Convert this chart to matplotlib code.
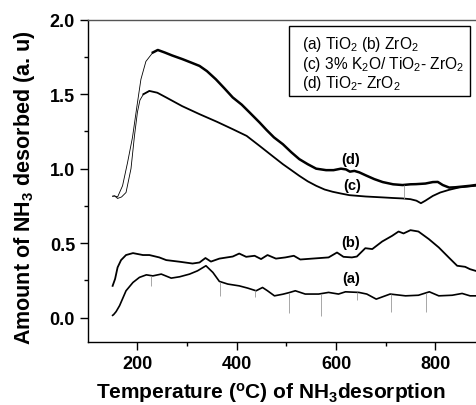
import numpy as np
import matplotlib
matplotlib.use("Agg")
import matplotlib.pyplot as plt
from matplotlib.patches import Rectangle
from matplotlib.ticker import MultipleLocator

plt.rcParams['font.family'] = ['Liberation Sans', 'DejaVu Sans']
plt.rcParams['mathtext.default'] = 'regular'

# TPD traces: temperature (deg C) and NH3 signal (a.u.)
# (d) TiO2-ZrO2
d_temp = [150, 154, 160, 170, 180, 190, 199, 207, 217, 231, 241, 255, 270, 291, 310,
          325, 340, 358, 375, 392, 410, 426, 446, 460, 475, 493, 510, 526, 543, 560,
          580, 595, 610, 620, 628, 637, 647, 660, 677, 694, 715, 734, 750, 761, 780,
          795, 805, 815, 828, 840, 855, 870, 881, 900]
d_val = [0.815, 0.817, 0.81, 0.885, 1.04, 1.21, 1.42, 1.60, 1.72, 1.78, 1.797, 1.78, 1.76,
         1.735, 1.71, 1.69, 1.655, 1.60, 1.54, 1.478, 1.43, 1.377, 1.31, 1.26, 1.21, 1.164,
         1.11, 1.064, 1.03, 1.00, 0.99, 0.99, 1.00, 0.995, 0.98, 0.985, 0.975, 0.955, 0.93,
         0.91, 0.895, 0.89, 0.895, 0.896, 0.90, 0.91, 0.911, 0.89, 0.873, 0.875, 0.88,
         0.885, 0.89, 0.89]

# (c) 3% K2O/TiO2-ZrO2
c_temp = [150, 154, 160, 168, 177, 187, 194, 200, 205, 212, 224, 240, 258, 290, 325, 360,
          392, 420, 446, 470, 493, 510, 526, 543, 560, 577, 593, 610, 627, 660, 694, 715,
          734, 750, 762, 771, 780, 795, 810, 828, 848, 865, 881, 900]
c_val = [0.815, 0.817, 0.80, 0.81, 0.84, 1.00, 1.22, 1.38, 1.46, 1.50, 1.522, 1.51, 1.478,
         1.42, 1.366, 1.315, 1.265, 1.22, 1.153, 1.09, 1.03, 0.99, 0.952, 0.915, 0.885,
         0.86, 0.845, 0.833, 0.822, 0.813, 0.807, 0.803, 0.80, 0.795, 0.785, 0.768, 0.785,
         0.817, 0.84, 0.858, 0.874, 0.88, 0.885, 0.89]

# (b) ZrO2
b_temp = [150, 155, 160, 167, 177, 191, 211, 224, 244, 258, 285, 311, 325, 337, 348, 365,
          392, 405, 419, 436, 449, 462, 479, 498, 515, 528, 552, 585, 602, 615, 632, 642,
          659, 673, 693, 713, 726, 736, 750, 766, 787, 807, 827, 844, 860, 870, 881, 900]
b_val = [0.213, 0.26, 0.337, 0.386, 0.42, 0.433, 0.42, 0.42, 0.404, 0.386, 0.375, 0.363,
         0.37, 0.40, 0.376, 0.396, 0.41, 0.43, 0.408, 0.415, 0.393, 0.42, 0.396, 0.404,
         0.415, 0.39, 0.396, 0.404, 0.437, 0.408, 0.404, 0.41, 0.466, 0.46, 0.511, 0.549,
         0.578, 0.565, 0.587, 0.578, 0.527, 0.471, 0.404, 0.348, 0.341, 0.325, 0.314, 0.30]

# (a) TiO2
a_temp = [150, 152, 157, 164, 177, 191, 204, 218, 231, 248, 268, 285, 305, 321, 338, 352,
          365, 382, 405, 422, 439, 452, 462, 476, 493, 506, 518, 538, 565, 585, 605, 619,
          646, 662, 681, 709, 740, 766, 788, 807, 834, 854, 870, 881, 900]
a_val = [0.015, 0.02, 0.04, 0.08, 0.18, 0.236, 0.27, 0.287, 0.28, 0.292, 0.265, 0.274,
         0.292, 0.314, 0.348, 0.303, 0.243, 0.225, 0.213, 0.198, 0.18, 0.202, 0.18, 0.146,
         0.157, 0.168, 0.18, 0.158, 0.158, 0.169, 0.158, 0.173, 0.169, 0.158, 0.124, 0.158,
         0.146, 0.15, 0.173, 0.146, 0.15, 0.162, 0.146, 0.146, 0.145]

# detector glitches on trace (a) and (c)
a_spike_temp = [228, 366, 436, 505, 570, 642, 711, 781]
a_spike_low = [0.213, 0.146, 0.135, 0.03, 0.012, 0.12, 0.035, 0.035]
c_spike_temp = [736]
c_spike_high = [0.89]

labels = ['(a)', '(b)', '(c)', '(d)']
label_temp = [630, 629, 633, 630]
label_val = [0.265, 0.505, 0.889, 1.064]

fig = plt.figure(figsize=(4.76, 4.06), dpi=100)
ax = fig.add_axes([0.1855, 0.1559, 0.8333, 0.793])

# thin rising edge, thicker main trace
d_temp, d_val = np.array(d_temp), np.array(d_val)
c_temp, c_val = np.array(c_temp), np.array(c_val)
ax.plot(d_temp[d_temp <= 241], d_val[d_temp <= 241], color='black', lw=0.6)
ax.plot(d_temp[d_temp >= 231], d_val[d_temp >= 231], color='black', lw=1.8)
ax.plot(c_temp[c_temp <= 224], c_val[c_temp <= 224], color='black', lw=0.6)
ax.plot(c_temp[c_temp >= 212], c_val[c_temp >= 212], color='black', lw=1.3)
ax.plot(b_temp, b_val, color='black', lw=1.3)
ax.plot(a_temp, a_val, color='black', lw=1.2)

ax.vlines(a_spike_temp, a_spike_low, np.interp(a_spike_temp, a_temp, a_val),
          color='#999999', lw=0.6)
ax.vlines(c_spike_temp, np.interp(c_spike_temp, c_temp, c_val), c_spike_high,
          color='#999999', lw=0.6)

for lab, t, v in zip(labels, label_temp, label_val):
    ax.text(t, v, lab, ha='center', va='center', fontsize=10.5, fontweight='bold')

ax.set_xlim(101, 900)
ax.set_ylim(-0.162, 2.0)
ax.xaxis.set_major_locator(MultipleLocator(200))
ax.xaxis.set_minor_locator(MultipleLocator(100))
ax.yaxis.set_major_locator(MultipleLocator(0.5))
ax.yaxis.set_minor_locator(MultipleLocator(0.25))
ax.tick_params(which='major', direction='out', length=6, width=1, labelsize=13, pad=3.5)
ax.tick_params(which='minor', direction='out', length=3, width=1)
for lab in ax.get_xticklabels() + ax.get_yticklabels():
    lab.set_fontweight('bold')
for sp in ax.spines.values():
    sp.set_linewidth(1.0)
ax.spines['top'].set_color('#555555')

ax.set_xlabel('Temperature ($^{o}$C) of NH$_3$desorption', fontsize=15, fontweight='bold')
ax.set_ylabel('Amount of NH$_3$ desorbed (a. u)', fontsize=15.5, fontweight='bold')
ax.xaxis.set_label_coords(0.46, -0.12)
ax.yaxis.set_label_coords(-0.129, 0.48)

# sample key in a framed box
fig.patches.append(Rectangle((0.608, 0.760), 0.379, 0.173, transform=fig.transFigure,
                             fill=True, fc='white', ec='black', lw=1.0))
key_lines = ['(a) TiO$_2$ (b) ZrO$_2$',
             '(c) 3% K$_2$O/ TiO$_2$- ZrO$_2$',
             '(d) TiO$_2$- ZrO$_2$']
key_y = [0.8786, 0.8293, 0.7840]
for txt, y in zip(key_lines, key_y):
    fig.text(0.634, y, txt, fontsize=11.2, va='baseline', ha='left')

fig.savefig('out.png', dpi=100)
